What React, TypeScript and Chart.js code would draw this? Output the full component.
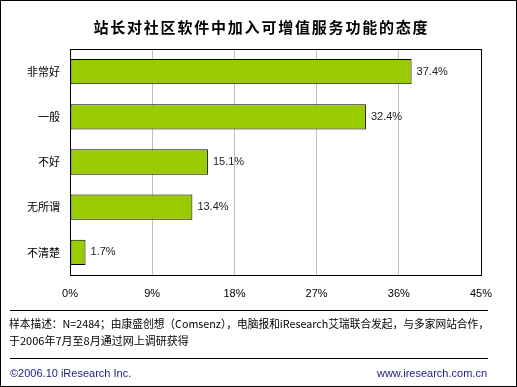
import React, { useEffect, useRef } from "react";
import { Chart, registerables } from "chart.js";

Chart.register(...registerables);

const titleText = "站长对社区软件中加入可增值服务功能的态度";
const categories = ["非常好", "一般", "不好", "无所谓", "不清楚"];
const values = [37.4, 32.4, 15.1, 13.4, 1.7];
const xTicks = [0, 9, 18, 27, 36, 45];
const noteLines = [
  "样本描述：N=2484；由康盛创想（Comsenz），电脑报和iResearch艾瑞联合发起，与多家网站合作，",
  "于2006年7月至8月通过网上调研获得",
];
const copyrightLeft = "©2006.10 iResearch Inc.";
const copyrightRight = "www.iresearch.com.cn";

const CJK = '"Noto Sans CJK SC", "Liberation Sans", sans-serif';
const LATIN = '"Liberation Sans", "Noto Sans CJK SC", sans-serif';

export default function App() {
  const ref = useRef<HTMLCanvasElement | null>(null);

  useEffect(() => {
    document.body.style.margin = "0";
    const canvas = ref.current!;
    const decor = {
      id: "decor",
      afterDraw(chart: any) {
        const ctx = chart.ctx as CanvasRenderingContext2D;
        const area = chart.chartArea;
        const W = chart.width;
        const H = chart.height;
        ctx.save();
        // outer border
        ctx.strokeStyle = "#000";
        ctx.lineWidth = 1;
        ctx.strokeRect(0.5, 0.5, W - 1, H - 1);
        // plot rectangle
        ctx.strokeRect(Math.round(area.left) + 0.5, Math.round(area.top) + 0.5,
          Math.round(area.right - area.left), Math.round(area.bottom - area.top));
        // title, character by character
        ctx.fillStyle = "#000";
        ctx.font = `bold 15px ${CJK}`;
        ctx.textAlign = "center";
        ctx.textBaseline = "middle";
        const chars = Array.from(titleText);
        const step = 16.8;
        const startX = 260.5 - ((chars.length - 1) * step) / 2;
        chars.forEach((ch, i) => ctx.fillText(ch, startX + i * step, 27));
        // value labels
        const meta = chart.getDatasetMeta(0);
        ctx.font = `11px ${LATIN}`;
        ctx.textAlign = "left";
        ctx.fillStyle = "#222";
        meta.data.forEach((bar: any, i: number) => {
          ctx.fillText(values[i].toFixed(1) + "%", bar.x + 5, bar.y);
        });
        // separator lines
        ctx.strokeStyle = "#000";
        ctx.beginPath();
        ctx.moveTo(10, 310.5);
        ctx.lineTo(488, 310.5);
        ctx.moveTo(10, 358.5);
        ctx.lineTo(488, 358.5);
        ctx.stroke();
        // notes
        ctx.fillStyle = "#000";
        ctx.font = `11px ${CJK}`;
        ctx.textAlign = "left";
        ctx.fillText(noteLines[0], 9, 324, 480);
        ctx.fillText(noteLines[1], 9, 341);
        // copyright
        ctx.fillStyle = "#1a1a80";
        ctx.font = `11px ${LATIN}`;
        ctx.fillText(copyrightLeft, 10, 374);
        ctx.textAlign = "right";
        ctx.fillText(copyrightRight, 487, 374);
        ctx.restore();
      },
    };

    const chart = new Chart(canvas, {
      type: "bar",
      data: {
        labels: categories,
        datasets: [
          {
            data: values,
            backgroundColor: "#99cc00",
            borderColor: "#000",
            borderWidth: 1,
            borderSkipped: false,
            barPercentage: 0.56,
            categoryPercentage: 1,
          },
        ],
      },
      options: {
        indexAxis: "y",
        responsive: false,
        animation: false,
        devicePixelRatio: 1,
        layout: { padding: { left: 0, top: 49, right: 36, bottom: 82 } },
        plugins: {
          legend: { display: false },
          title: { display: false },
          tooltip: { enabled: false },
        },
        scales: {
          x: {
            min: 0,
            max: 45,
            afterBuildTicks: (s: any) => {
              s.ticks = xTicks.map((v) => ({ value: v }));
            },
            afterFit: (s: any) => {
              s.height = 30;
            },
            grid: {
              color: (c: any) => (c.tick && (c.tick.value === 0 || c.tick.value === 45) ? "#000" : "#c0c0c0"),
              drawTicks: false,
            },
            border: { display: true, color: "#000" },
            ticks: {
              padding: 12,
              color: "#000",
              font: { family: LATIN, size: 11 },
              callback: (v: any) => v + "%",
            },
          },
          y: {
            afterFit: (s: any) => {
              s.width = 70;
            },
            grid: { display: false, drawTicks: false },
            border: { display: true, color: "#000" },
            ticks: {
              padding: 10,
              color: "#000",
              font: { family: CJK, size: 11 },
            },
          },
        },
      },
      plugins: [decor],
    } as any);
    return () => chart.destroy();
  }, []);

  return <canvas ref={ref} width={517} height={387} style={{ display: "block", width: 517, height: 387 }} />;
}
